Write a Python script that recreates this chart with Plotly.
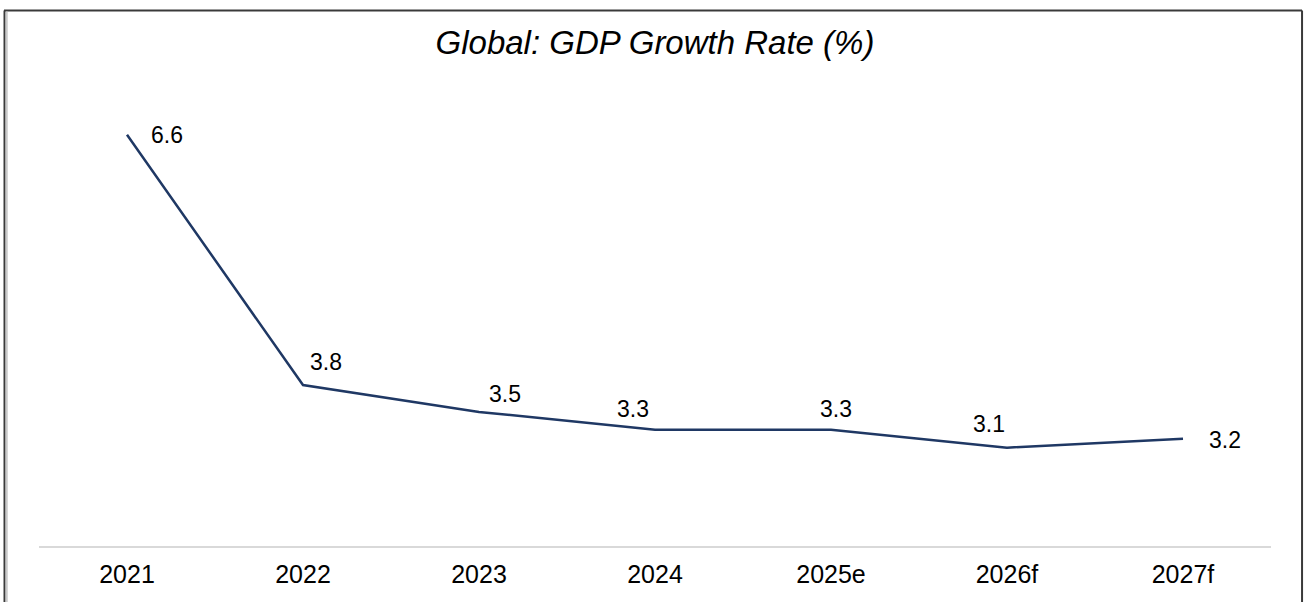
import plotly.graph_objects as go

# Global GDP growth, % (e = estimate, f = forecast)
years = ["2021", "2022", "2023", "2024", "2025e", "2026f", "2027f"]
growth = [6.6, 3.8, 3.5, 3.3, 3.3, 3.1, 3.2]

# pixel offsets of each value label from its point (dx right, dy up)
label_dx = [40, 23, 26, -22, 5, -18, 42]
label_dy = [0, 23, 18, 21, 21, 24, -1]

FONT = "Liberation Sans, Arial, sans-serif"
LINE_COLOR = "#1f3864"

fig = go.Figure()
fig.add_trace(go.Scatter(
    x=years, y=growth, mode="lines",
    line=dict(color=LINE_COLOR, width=2.5),
    hoverinfo="x+y", showlegend=False,
))

# value labels; category positions are given by index so that
# year-like names are not read as numbers
for i, (v, dx, dy) in enumerate(zip(growth, label_dx, label_dy)):
    fig.add_annotation(
        x=i, y=v, text=f"{v:.1f}", showarrow=False,
        xanchor="center", yanchor="middle",
        xshift=dx, yshift=dy,
        font=dict(family=FONT, size=23, color="#000000"),
    )

# outer frame: dark top/left/right edges with a soft grey inner left edge
frame = [
    dict(x0=-0.0284, x1=1.0252, y0=1.1980, y1=1.1980, color="#3a3a3a", w=2),
    dict(x0=-0.0280, x1=-0.0280, y0=1.1980, y1=-0.2, color="#3a3a3a", w=2),
    dict(x0=-0.0262, x1=-0.0262, y0=1.1950, y1=-0.2, color="#c8c8c8", w=2),
    dict(x0=1.0252, x1=1.0252, y0=1.1980, y1=-0.2, color="#3a3a3a", w=2),
]
for s in frame:
    fig.add_shape(type="line", xref="paper", yref="paper",
                  x0=s["x0"], x1=s["x1"], y0=s["y0"], y1=s["y1"],
                  line=dict(color=s["color"], width=s["w"]))

fig.update_layout(
    width=1305, height=602,
    margin=dict(l=39, r=34, t=99, b=56),
    paper_bgcolor="white", plot_bgcolor="white",
    font=dict(family=FONT, color="#000000"),
    title=dict(
        text="Global: GDP Growth Rate (%)",
        x=0.5, xref="paper", xanchor="center",
        y=0.93, yref="container", yanchor="middle",
        font=dict(family=FONT, size=33, color="#000000", style="italic"),
    ),
    xaxis=dict(
        type="category", range=[-0.5, 6.5],
        showline=True, linecolor="#d9d9d9", linewidth=2,
        showgrid=False, zeroline=False, ticks="",
        ticklabelstandoff=5,
        tickfont=dict(family=FONT, size=25, color="#000000"),
    ),
    yaxis=dict(
        range=[2, 7], visible=False, showgrid=False, zeroline=False,
    ),
)

fig.write_html("out.html")
